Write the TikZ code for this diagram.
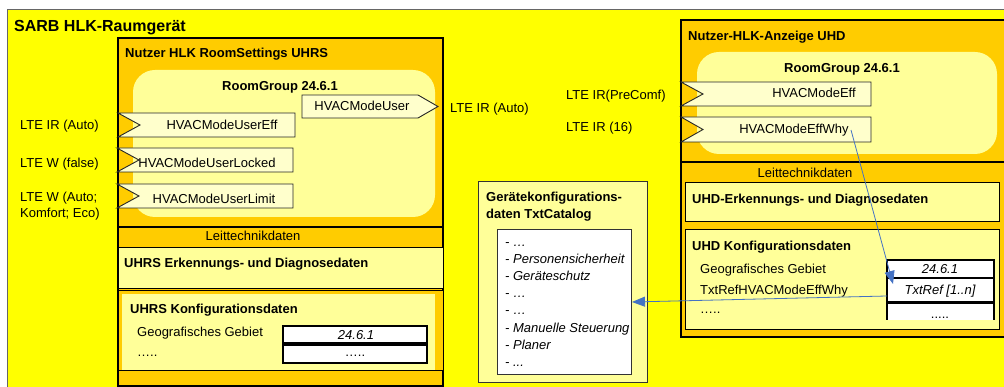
\documentclass[tikz,border=0pt]{standalone}
\usepackage{fontspec}
\setmainfont{Liberation Sans}
\usetikzlibrary{arrows.meta}
\definecolor{yel}{HTML}{FFFF00}
\definecolor{org}{HTML}{FFCC00}
\definecolor{pale}{HTML}{FFFF99}
\definecolor{tagfill}{HTML}{FFFFCC}
\definecolor{arrblue}{HTML}{4472C4}
\newcommand{\inTag}[4]{\draw[tagline] (#1,#3) -- (#2,#3) -- (#2,#4) -- (#1,#4) -- ({#1+22},{(#3+#4)/2}) -- cycle;}
\begin{document}
\begin{tikzpicture}[x=1pt,y=-1pt,
  lbl/.style={anchor=base west, inner sep=0pt, font=\fontsize{13}{15}\selectfont},
  ttl/.style={anchor=base west, inner sep=0pt, font=\fontsize{13}{15}\selectfont\bfseries},
  ctr/.style={anchor=base, inner sep=0pt, font=\fontsize{13}{15}\selectfont},
  ctrit/.style={anchor=base, inner sep=0pt, font=\fontsize{13}{15}\selectfont\itshape},
  itl/.style={anchor=base west, inner sep=0pt, font=\fontsize{13}{15}\selectfont\itshape},
  tagline/.style={draw=black!85, line width=0.9pt, fill=tagfill},
  panel/.style={draw=black, line width=1.1pt, fill=org},
  palebox/.style={draw=black, line width=1pt, fill=pale},
  valbox/.style={draw=black, line width=1.2pt, fill=white},
  conn/.style={draw=arrblue, line width=0.8pt, -{Triangle[length=13pt,width=10pt]}}
]
\clip (0,0) rectangle (1004,387);
\fill[white] (0,0) rectangle (1004,387);
\draw[draw=black!60, line width=0.8pt, fill=yel] (7,9) rectangle (1030,400);
\node[ttl, font=\fontsize{16}{18}\selectfont\bfseries] (title) at (14,32) {SARB HLK-Raumgerät};

% ---------- left panel ----------
\draw[panel] (118,38) rectangle (443,386);
\node[ttl] (uhrs) at (125,58) {Nutzer HLK RoomSettings UHRS};
\fill[pale] (133,70) [rounded corners=22pt] rectangle (435,217);
\node[ttl, anchor=base] (rg1) at (280,91) {RoomGroup 24.6.1};
\draw[tagline] (302,95) -- (418,95) -- (438,106.5) -- (418,118) -- (302,118) -- cycle;
\node[ctr] (mu) at (362,111) {HVACModeUser};
\node[lbl] (lteout) at (450,113) {LTE IR (Auto)};
\inTag{118}{295}{113}{137}
\node[ctr] (mue) at (222,130) {HVACModeUserEff};
\inTag{117}{293}{148}{172}
\node[ctr] (mul) at (207,168) {HVACModeUserLocked};
\inTag{117}{293}{184}{208}
\node[ctr] (mulim) at (214,204) {HVACModeUserLimit};
\node[lbl] (l1) at (20,130) {LTE IR (Auto)};
\node[lbl] (l2) at (20,168) {LTE W (false)};
\node[lbl] (l3) at (20,202) {LTE W (Auto;};
\node[lbl] (l4) at (20,218) {Komfort; Eco)};
\draw[black, line width=1.5pt] (118,227) -- (443,227);
\node[ctr] (ltd1) at (253,241) {Leittechnikdaten};
\draw[palebox] (118,248) rectangle (443,289);
\node[ttl] (erk1) at (124,268) {UHRS Erkennungs- und Diagnosedaten};
\fill[org] (118,291) rectangle (443,370);
\fill[pale] (122,294) rectangle (435,370);
\draw[black, line width=1pt] (118,291) rectangle (443,370);
\node[ttl] (kon1) at (130,314) {UHRS Konfigurationsdaten};
\node[lbl] (geo1) at (137,337) {Geografisches Gebiet};
\node[lbl] (dots1) at (137,356) {…..};
\draw[valbox] (283,326) rectangle (427,343);
\node[ctrit] (v11) at (356,339) {24.6.1};
\draw[valbox] (283,345) rectangle (427,363);
\node[ctr] (v12) at (355,356) {…..};

% ---------- catalog ----------
\draw[draw=black!80, line width=1pt, fill=pale] (478,182) rectangle (647,382);
\node[ttl] (cat1) at (486,202) {Gerätekonfigurations-};
\node[ttl] (cat2) at (486,219) {daten TxtCatalog};
\draw[draw=black!80, line width=1pt, fill=white] (497,230) rectangle (631,374);
\coordinate (catin) at (632,302);
\node[itl] (c1) at (505,247) {- …};
\node[itl] (c2) at (505,264) {- Personensicherheit};
\node[itl] (c3) at (505,281) {- Geräteschutz};
\node[itl] (c4) at (505,298) {- …};
\node[itl] (c5) at (505,315) {- …};
\node[itl] (c6) at (505,332) {- Manuelle Steuerung};
\node[itl] (c7) at (505,349) {- Planer};
\node[itl] (c8) at (505,366) {- ...};

% ---------- right panel ----------
\draw[panel] (681,20) rectangle (1030,337);
\node[ttl] (uhd) at (688,41) {Nutzer-HLK-Anzeige UHD};
\fill[pale] (697,52) [rounded corners=22pt] rectangle (997,154);
\node[ttl, anchor=base] (rg2) at (842,73) {RoomGroup 24.6.1};
\inTag{681}{871}{82}{106}
\node[ctr] (me) at (814,98) {HVACModeEff};
\inTag{681}{871}{117}{142}
\node[ctr] (mew) at (794,134) {HVACModeEffWhy};
\coordinate (mewend) at (851,130);
\node[lbl] (r1) at (566,100) {LTE IR(PreComf)};
\node[lbl] (r2) at (566,132) {LTE IR (16)};
\draw[black, line width=1.5pt] (681,162) -- (1030,162);
\node[ctr] (ltd2) at (805,178) {Leittechnikdaten};
\draw[palebox] (685,183) rectangle (999,222);
\node[ttl] (erk2) at (692,204) {UHD-Erkennungs- und Diagnosedaten};
\draw[palebox] (685,230) rectangle (999,330);
\node[ttl] (kon2) at (692,251) {UHD Konfigurationsdaten};
\node[lbl] (geo2) at (700,274) {Geografisches Gebiet};
\node[lbl] (txr) at (700,295) {TxtRefHVACModeEffWhy};
\node[lbl] (dots2) at (700,313) {…..};
\draw[valbox] (887,260) rectangle (994,278);
\node[ctrit] (v21) at (940,274) {24.6.1};
\draw[valbox] (887,278) rectangle (994,302);
\node[ctrit] (v22) at (940,295) {TxtRef [1..n]};
\coordinate (vb2in) at (893,284);
\coordinate (vb2w) at (887,296);
\fill[white] (887,303) rectangle (994,320);
\draw[black, line width=1.2pt] (887,320) -- (887,303) -- (994,303) -- (994,320);
\node[ctr] (v23) at (940,319) {.....};

% ---------- connectors ----------
\draw[conn] (mewend) -- (vb2in);
\draw[conn] (vb2w) -- (catin);
\end{tikzpicture}
\end{document}
